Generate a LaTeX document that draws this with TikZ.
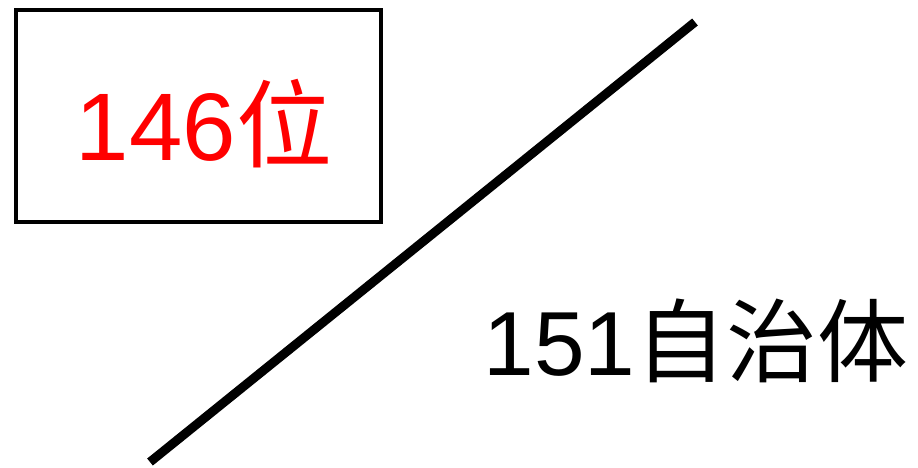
\documentclass[tikz,border=0pt]{standalone}
\usepackage{fontspec}
\setmainfont{Liberation Sans}
\newfontfamily\cjk{Noto Sans CJK SC}
\begin{document}
\begin{tikzpicture}[x=1pt,y=-1pt,
  boxstyle/.style={draw=black,line width=4pt},
  slash/.style={draw=black,line width=9pt},
  redlabel/.style={text=red,font=\fontsize{96}{100}\selectfont,inner sep=0pt,anchor=base},
  blacklabel/.style={text=black,font=\fontsize{91}{96}\selectfont,inner sep=0pt,anchor=base}]
\useasboundingbox (0,0) rectangle (918,467);
\node[boxstyle,minimum width=365pt,minimum height=212pt,anchor=north west] (box) at (14,8) {};
\node[redlabel] (t1) at (204,160) {146{\cjk 位}};
\coordinate (a) at (150,462);
\coordinate (b) at (695,22);
\draw[slash] (a) -- (b);
\node[blacklabel] (t2) at (696,375) {151{\cjk 自治体}};
\end{tikzpicture}
\end{document}
